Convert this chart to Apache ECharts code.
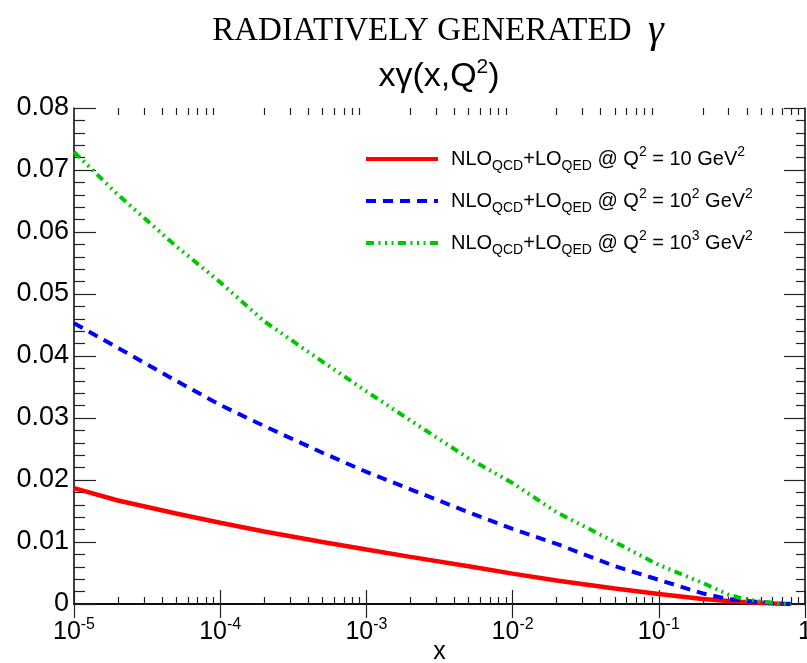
<!DOCTYPE html>
<html><head><meta charset="utf-8">
<script src="https://cdn.jsdelivr.net/npm/echarts@6/dist/echarts.min.js"></script>
<style>html,body{margin:0;padding:0;background:#fff}#c{width:807px;height:663px}</style>
</head><body><div id="c"></div>
<script>
// ---- data ----
const xValues   = [1e-5, 2e-5, 5e-5, 1e-4, 2e-4, 5e-4, 1e-3, 2e-3, 5e-3, 1e-2, 2e-2, 5e-2, 0.1, 0.2, 0.3, 0.4, 0.5, 0.6, 0.7, 0.8];
const redQ10    = [0.0187, 0.0167, 0.0146, 0.0131, 0.0117, 0.0100, 0.0088, 0.0076, 0.0061, 0.0049, 0.0038, 0.0025, 0.0016, 0.0008, 0.0005, 0.0003, 0.0002, 0.0001, 0.00003, 0];
const blueQ100  = [0.0453, 0.0413, 0.0360, 0.0321, 0.0287, 0.0244, 0.0213, 0.0185, 0.0148, 0.0121, 0.0097, 0.0061, 0.0039, 0.0017, 0.0008, 0.0005, 0.0003, 0.00015, 0.00005, 0];
const greenQ1000= [0.0729, 0.0660, 0.0577, 0.0519, 0.0456, 0.0391, 0.0343, 0.0296, 0.0235, 0.0195, 0.0148, 0.0100, 0.0063, 0.0034, 0.0015, 0.0007, 0.0004, 0.0002, 0.00005, 0];
const seriesNames = ['Q2 = 10 GeV2', 'Q2 = 10^2 GeV2', 'Q2 = 10^3 GeV2'];
const legendTexts = [
  '{m|NLO}{s|QCD}{m|+LO}{s|QED}{m| @ Q}{p|2}{m| = 10 GeV}{p|2}',
  '{m|NLO}{s|QCD}{m|+LO}{s|QED}{m| @ Q}{p|2}{m| = 10}{p|2}{m| GeV}{p|2}',
  '{m|NLO}{s|QCD}{m|+LO}{s|QED}{m| @ Q}{p|2}{m| = 10}{p|3}{m| GeV}{p|2}'
];
const xMajorTicks = [1e-5, 1e-4, 1e-3, 1e-2, 1e-1, 1];
const xMinorTicks = [];
for (let e = -5; e < 0; e++) for (let k = 2; k <= 9; k++) xMinorTicks.push(k * Math.pow(10, e));
const yMin = 0, yMax = 0.08, yStep = 0.01;

// ---- chart ----
const SANS = 'Liberation Sans';
const chart = echarts.init(document.getElementById('c'), null, {renderer: 'canvas'});
const gridRect = {left: 74, right: 2, top: 108, bottom: 59, containLabel: false, outerBoundsMode: 'none'};
const blackLine = {color: '#000', width: 1.5};
const tickLine = {color: '#222', width: 1.2};

function xLabel(v) {
  const e = Math.round(Math.log10(v));
  if (e === 0) return '{b|1}';
  return '{b|10}{s|' + e + '}';
}

const option = {
  backgroundColor: '#fff',
  animation: false,
  title: [
    {
      text: '{a|RADIATIVELY GENERATED  }{g|γ}',
      left: 433, top: 8, textAlign: 'center',
      textStyle: { fontWeight: 'normal', rich: {
        a: {fontFamily: 'Liberation Serif', fontWeight: 'normal', fontSize: 33, color: '#000', lineHeight: 36},
        g: {fontFamily: 'Liberation Serif', fontWeight: 'normal', fontStyle: 'italic', fontSize: 40, color: '#000', lineHeight: 36}
      }}
    },
    {
      text: '{m|xγ(x,Q}{p|2}{m|)}',
      left: 434, top: 52, textAlign: 'center',
      textStyle: { fontWeight: 'normal', rich: {
        m: {fontFamily: SANS, fontWeight: 'normal', fontSize: 34, color: '#000', lineHeight: 40},
        p: {fontFamily: SANS, fontWeight: 'normal', fontSize: 21, color: '#000', lineHeight: 40, verticalAlign: 'top', padding: [0,0,13,0]}
      }}
    }
  ],
  legend: {
    orient: 'vertical', left: 364, top: 145, padding: 0, itemGap: 14,
    itemWidth: 72, itemHeight: 14,
    data: seriesNames,
    lineStyle: {width: 4},
    itemStyle: {color: 'rgba(0,0,0,0)', borderColor: 'rgba(0,0,0,0)', borderWidth: 0, opacity: 0},
    formatter: function (name) { return legendTexts[seriesNames.indexOf(name)]; },
    textStyle: {
      padding: [0, 0, 0, 8],
      rich: {
        m: {fontFamily: SANS, fontSize: 20, color: '#000', lineHeight: 28},
        s: {fontFamily: SANS, fontSize: 14, color: '#000', lineHeight: 8, verticalAlign: 'bottom'},
        p: {fontFamily: SANS, fontSize: 14, color: '#000', lineHeight: 18, verticalAlign: 'top'}
      }
    }
  },
  grid: [
    Object.assign({}, gridRect),
    Object.assign({}, gridRect)
  ],
  xAxis: [
    { // main bottom axis
      type: 'log', gridIndex: 0, position: 'bottom', min: 1e-5, max: 1,
      axisLine: {show: true, lineStyle: blackLine},
      axisTick: {show: true, inside: true, length: 14, customValues: xMajorTicks, lineStyle: tickLine},
      axisLabel: {
        show: true, customValues: xMajorTicks, margin: 13, formatter: xLabel, hideOverlap: false,
        rich: {
          b: {fontFamily: SANS, fontSize: 25, color: '#000', lineHeight: 30},
          s: {fontFamily: SANS, fontSize: 16, color: '#000', lineHeight: 30, verticalAlign: 'top', padding: [0,0,14,0]}
        }
      },
      splitLine: {show: false},
      name: 'x', nameLocation: 'middle', nameGap: 35, nameMoveOverlap: false,
      nameTextStyle: {fontFamily: SANS, fontSize: 25, color: '#000', verticalAlign: 'top', lineHeight: 26}
    },
    { // top frame with major ticks
      type: 'log', gridIndex: 0, position: 'top', min: 1e-5, max: 1,
      axisLine: {show: true, lineStyle: blackLine},
      axisTick: {show: true, inside: true, length: 14, customValues: xMajorTicks, lineStyle: tickLine},
      axisLabel: {show: false},
      splitLine: {show: false}
    },
    { // bottom minor ticks
      type: 'log', gridIndex: 1, position: 'bottom', min: 1e-5, max: 1,
      axisLine: {show: false},
      axisTick: {show: true, inside: true, length: 7, customValues: xMinorTicks, lineStyle: tickLine},
      axisLabel: {show: false},
      splitLine: {show: false}
    },
    { // top minor ticks
      type: 'log', gridIndex: 1, position: 'top', min: 1e-5, max: 1,
      axisLine: {show: false},
      axisTick: {show: true, inside: true, length: 7, customValues: xMinorTicks, lineStyle: tickLine},
      axisLabel: {show: false},
      splitLine: {show: false}
    }
  ],
  yAxis: [
    {
      type: 'value', gridIndex: 0, position: 'left', min: yMin, max: yMax, interval: yStep,
      axisLine: {show: true, lineStyle: blackLine},
      axisTick: {show: true, inside: true, length: 22, lineStyle: tickLine},
      minorTick: {show: true, splitNumber: 5, length: 11, lineStyle: tickLine},
      axisLabel: {show: true, margin: 5, fontFamily: SANS, fontSize: 27, color: '#000'},
      splitLine: {show: false}
    },
    {
      type: 'value', gridIndex: 0, position: 'right', min: yMin, max: yMax, interval: yStep,
      axisLine: {show: true, lineStyle: blackLine},
      axisTick: {show: true, inside: true, length: 21, lineStyle: tickLine},
      minorTick: {show: true, splitNumber: 5, length: 9, lineStyle: tickLine},
      axisLabel: {show: false},
      splitLine: {show: false}
    },
    {
      type: 'value', gridIndex: 1, min: yMin, max: yMax, show: false
    }
  ],
  series: [
    {
      name: seriesNames[0], type: 'line', xAxisIndex: 0, yAxisIndex: 0,
      data: xValues.map((x, i) => [x, redQ10[i]]),
      symbol: 'none', smooth: false,
      lineStyle: {color: '#ff0000', width: 4.5, type: 'solid'},
      itemStyle: {color: '#ff0000'}
    },
    {
      name: seriesNames[1], type: 'line', xAxisIndex: 0, yAxisIndex: 0,
      data: xValues.map((x, i) => [x, blueQ100[i]]),
      symbol: 'none', smooth: false,
      lineStyle: {color: '#0000ff', width: 4, type: [10, 7]},
      itemStyle: {color: '#0000ff'}
    },
    {
      name: seriesNames[2], type: 'line', xAxisIndex: 0, yAxisIndex: 0,
      data: xValues.map((x, i) => [x, greenQ1000[i]]),
      symbol: 'none', smooth: false,
      lineStyle: {color: '#00c800', width: 4, type: [8, 4.5, 2, 4.5, 2, 4.5, 2, 4.5]},
      itemStyle: {color: '#00c800'}
    }
  ]
};
chart.setOption(option);
</script>
</body></html>
